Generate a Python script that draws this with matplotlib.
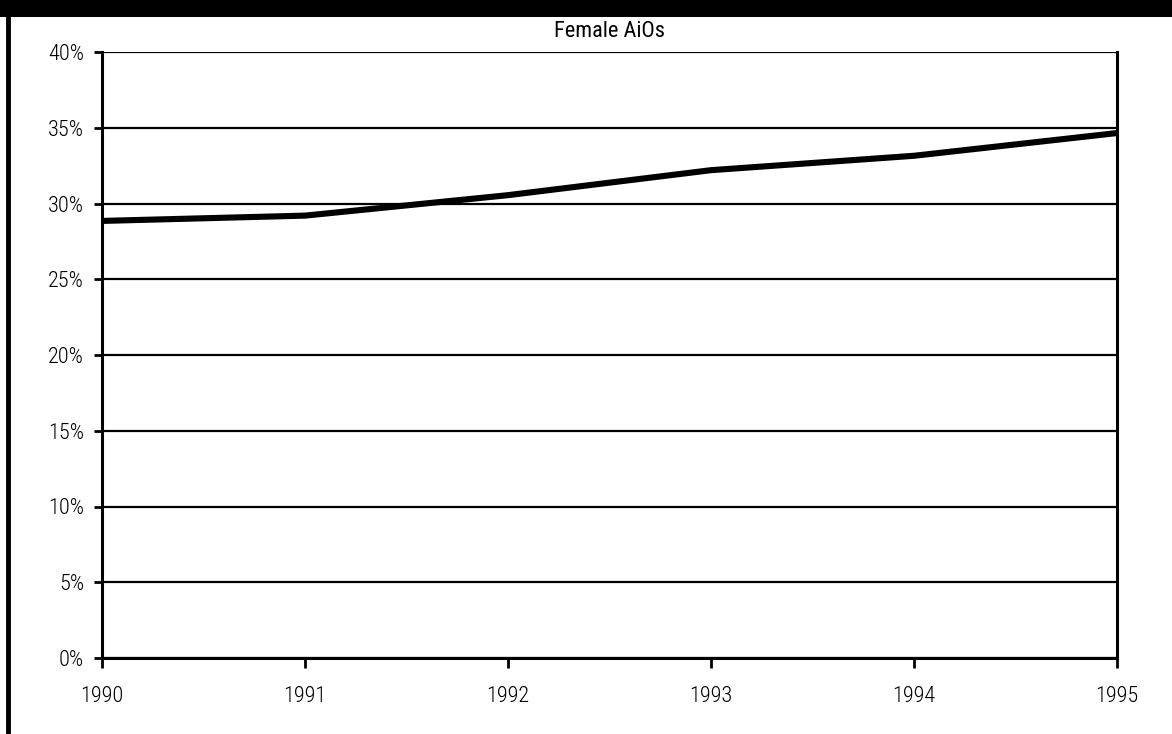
import matplotlib
matplotlib.use("Agg")
from matplotlib import pyplot as plt
from matplotlib.ticker import FuncFormatter
from matplotlib.patches import Rectangle
from matplotlib.lines import Line2D

years = [1990, 1991, 1992, 1993, 1994, 1995]
female_share = [28.85, 29.2, 30.55, 32.2, 33.15, 34.65]
y_ticks = [0, 5, 10, 15, 20, 25, 30, 35, 40]

plt.rcParams['font.family'] = ['Roboto Condensed', 'DejaVu Sans']
plt.rcParams['font.weight'] = 'light'

fig = plt.figure(figsize=(11.72, 7.34), dpi=100)
ax = fig.add_axes([102 / 1172, 1 - 658 / 734, 1015 / 1172, 606 / 734])

ax.plot(years, female_share, color="black", linewidth=4.4, solid_joinstyle="round")

ax.set_xlim(1990, 1995)
ax.set_ylim(0, 40)
ax.set_yticks(y_ticks)
ax.set_xticks(years)
ax.yaxis.set_major_formatter(FuncFormatter(lambda v, _: f"{v:.0f}%"))
ax.grid(axis="y", color="black", linewidth=1.6)
ax.set_axisbelow(True)

for side in ["left", "right", "bottom"]:
    ax.spines[side].set_linewidth(2.2)
ax.spines["top"].set_visible(False)

ax.tick_params(axis="x", direction="out", length=7, width=2, pad=13, labelsize=16)
ax.tick_params(axis="y", direction="out", length=6, width=2, pad=7, labelsize=16)

ax.set_title("Female AiOs", fontsize=16, pad=11)

# black band along the top and frame line on the left
fig.patches.append(Rectangle((0, 1 - 17 / 734), 1, 17 / 734, transform=fig.transFigure,
                             facecolor="black", edgecolor="none"))
fig.lines.append(Line2D([7.5 / 1172, 7.5 / 1172], [0, 1], transform=fig.transFigure,
                        color="black", linewidth=3.5))

fig.savefig("out.png", dpi=100)
